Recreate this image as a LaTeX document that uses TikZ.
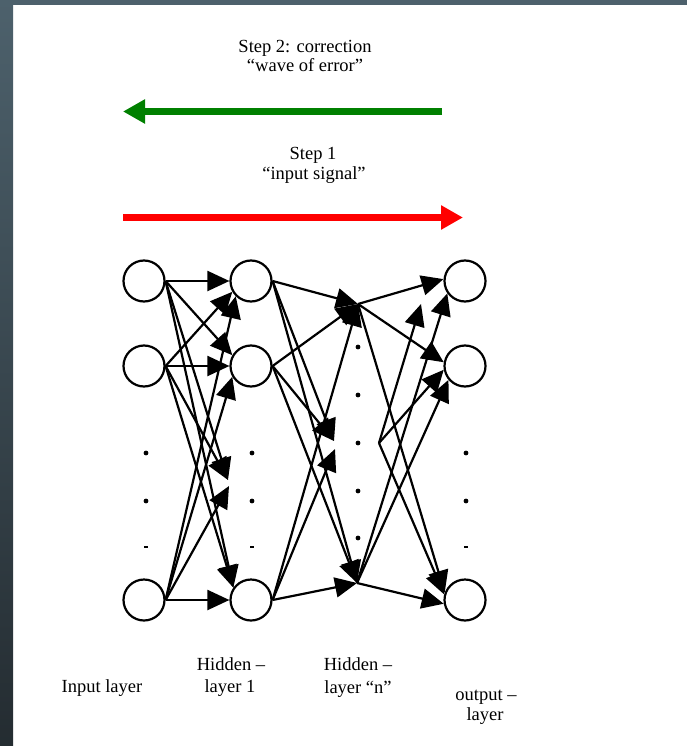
\documentclass[tikz,border=0pt]{standalone}
\usepackage{fontspec}
\setmainfont{Liberation Serif}
\usetikzlibrary{arrows.meta}

\definecolor{slate}{RGB}{77,97,108}
\definecolor{slatedark}{RGB}{36,44,49}
\definecolor{fwdred}{RGB}{255,0,0}
\definecolor{backgreen}{RGB}{0,128,0}

\begin{document}
\begin{tikzpicture}[x=1pt,y=-1pt,
  neuron/.style={circle,draw,line width=2.2pt,minimum size=41pt,inner sep=0pt},
  link/.style={line width=2.2pt,-{Triangle[length=22pt,width=20pt]}},
  bigarrow/.style={line width=6.5pt,-{Triangle[length=22pt,width=23pt]}},
  lbl/.style={font=\fontsize{18.5}{20}\selectfont,anchor=base,inner sep=0pt},
  dotmark/.style={circle,fill,inner sep=0pt,minimum size=4.8pt},
  tickmark/.style={fill,minimum width=3.5pt,minimum height=1.2pt,inner sep=0pt}
]
\useasboundingbox (0,0) rectangle (687,746);
\fill[white] (0,0) rectangle (687,746);

% slate frame along the top and left edges
\fill[slate] (0,0) rectangle (687,5);
\shade[top color=slate,bottom color=slatedark] (0,0) rectangle (13,746);

% step captions and direction arrows
\node[lbl] (s2a) at (305,52.5) {Step 2: correction};
\node[lbl] (s2b) at (305,72) {“wave of error”};
\node[lbl] (s1a) at (313,159.5) {Step 1};
\node[lbl] (s1b) at (314,179) {“input signal”};

\coordinate (gS) at (442,111.5);
\coordinate (gE) at (123,111.5);
\draw[bigarrow,backgreen] (gS) -- (gE);
\coordinate (rS) at (123,217.5);
\coordinate (rE) at (463,217.5);
\draw[bigarrow,fwdred] (rS) -- (rE);

% neurons
\node[neuron] (I1) at (144,281) {};
\node[neuron] (I2) at (144,366) {};
\node[neuron] (I3) at (144,600) {};
\node[neuron] (H1) at (251,281) {};
\node[neuron] (H2) at (251,366) {};
\node[neuron] (H3) at (251,600) {};
\node[neuron] (O1) at (465,281) {};
\node[neuron] (O2) at (465,366) {};
\node[neuron] (O3) at (465,600) {};

% ellipsis dots
\foreach \x/\c in {146/i,252/h,466/o}{
  \node[dotmark] (d\c1) at (\x,453) {};
  \node[dotmark] (d\c2) at (\x,501) {};
  \node[tickmark] (d\c3) at (\x,547) {};
}
\foreach \y [count=\k] in {347,395,443,491,538}
  \node[dotmark] (dn\k) at (358,\y) {};

% junction points of the hidden layer "n" and the elided units
\coordinate (D1) at (228,480);
\coordinate (D2) at (229,486);
\coordinate (N1) at (358,304);
\coordinate (Na) at (334,441);
\coordinate (Nb) at (335,449);
\coordinate (N3) at (379,443);
\coordinate (N4) at (357,583);
\coordinate (Q)  at (421,304);

% input -> hidden layer 1
\foreach \s/\t in {I1/H1.west, I1/H2.150, I1/D1, I1/H3.145,
                   I2/H1.210, I2/H2.west, I2/D1, I2/H3.145,
                   I3/H1.225, I3/H2.210, I3/D2, I3/H3.west}
  \draw[link] (\s.east) -- (\t);

% hidden layer 1 -> hidden layer n
\foreach \s/\t in {H1/N1, H1/Na, H1/N4, H2/N1, H2/Na, H2/N4, H3/N1, H3/Nb, H3/N4}
  \draw[link] (\s.east) -- (\t);

% hidden layer n -> output
\draw[link] (N1) -- (O1.175);
\draw[link] (N1) -- (O2.170);
\draw[link] (N1) -- (O3.160);
\draw[link] (N3) -- (Q);
\draw[link] (N3) -- (O2.190);
\draw[link] (N3) -- (O3.165);
\draw[link] (N4) -- (O1.215);
\draw[link] (N4) -- (O2.220);
\draw[link] (N4) -- (O3.190);

% layer captions
\node[lbl] (inl) at (102,692) {Input layer};
\node[lbl] (h1a) at (231,670) {Hidden –};
\node[lbl] (h1b) at (230,692) {layer 1};
\node[lbl] (hna) at (358,670) {Hidden –};
\node[lbl] (hnb) at (358,693) {layer “n”};
\node[lbl] (oua) at (486,700) {output –};
\node[lbl] (oub) at (485,720) {layer};
\end{tikzpicture}
\end{document}
